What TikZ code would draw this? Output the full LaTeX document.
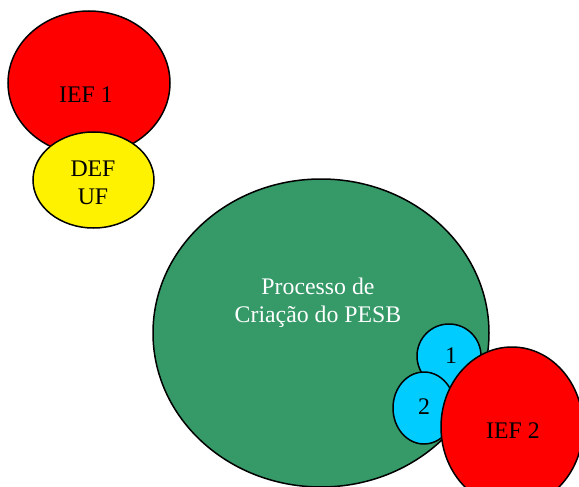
\documentclass[tikz,border=0pt]{standalone}
\usepackage{fontspec}
\setmainfont{Liberation Serif}
\definecolor{pesbgreen}{RGB}{53,153,104}
\definecolor{etapacyan}{RGB}{0,204,255}
\tikzset{
  bolha/.style={draw=black,line width=1.5pt},
  rotulo/.style={align=center,font=\fontsize{23.8}{28}\selectfont}
}
\begin{document}
\begin{tikzpicture}[x=1pt,y=-1pt]
    \useasboundingbox (0,0) rectangle (579,487);
    \clip (0,0) rectangle (579,487);
    \coordinate (I1) at (89,83);
    \coordinate (DU) at (93.5,180);
    \coordinate (PC) at (321,333);
    \coordinate (E1) at (449,356);
    \coordinate (E2) at (424,408);
    \coordinate (I2) at (512,427);
    \draw [bolha,fill=red] (I1) ellipse [x radius=81pt,y radius=72pt];
    \draw [bolha,fill=yellow] (DU) ellipse [x radius=60.5pt,y radius=48pt];
    \draw [bolha,fill=pesbgreen] (PC) ellipse [x radius=168pt,y radius=154pt];
    \draw [bolha,fill=etapacyan] (E1) ellipse [x radius=32pt,y radius=32pt];
    \draw [bolha,fill=etapacyan] (E2) ellipse [x radius=31pt,y radius=36pt];
    \draw [bolha,fill=red] (I2) ellipse [x radius=71pt,y radius=80pt];
    \node [rotulo] (ief1) at (86,95) {IEF 1};
    \node [rotulo] (defuf) at (93,183) {DEF\\UF};
    \node [rotulo,text=white] (processo) at (318,303) {Processo de\\Criação do PESB};
    \node [rotulo] (um) at (451,356) {1};
    \node [rotulo] (dois) at (424,407) {2};
    \node [rotulo] (ief2) at (513,431) {IEF 2};
\end{tikzpicture}
\end{document}
